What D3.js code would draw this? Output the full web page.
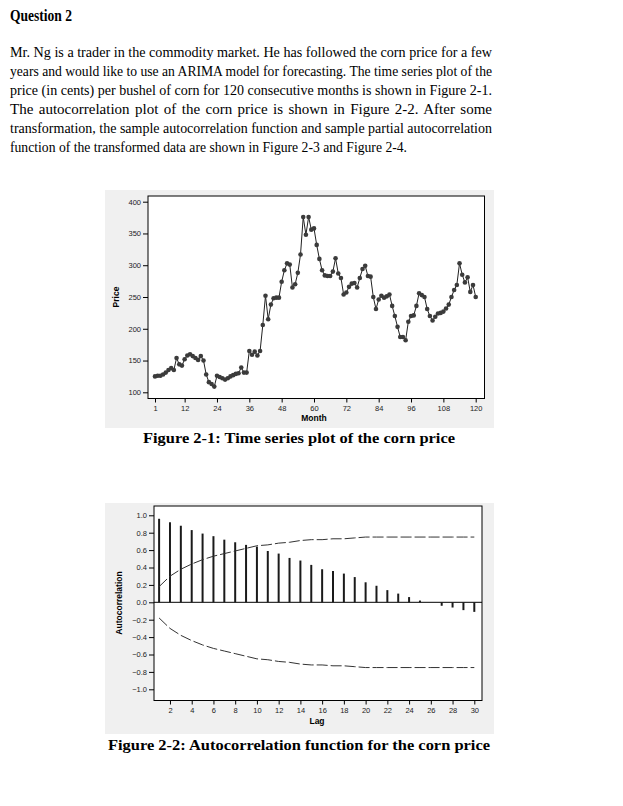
<!DOCTYPE html>
<html>
<head>
<meta charset="utf-8">
<script src="https://cdn.jsdelivr.net/npm/d3@7"></script>
<style>
  body { margin: 0; background: #fff; }
  svg { display: block; }
</style>
</head>
<body>
<svg id="page" width="623" height="806"></svg>
<script>
// question text, one entry per printed line
var title = "Question 2";
var para = [
  "Mr. Ng is a trader in the commodity market. He has followed the corn price for a few",
  "years and would like to use an ARIMA model for forecasting. The time series plot of the",
  "price (in cents) per bushel of corn for 120 consecutive months is shown in Figure 2-1.",
  "The autocorrelation plot of the corn price is shown in Figure 2-2. After some",
  "transformation, the sample autocorrelation function and sample partial autocorrelation",
  "function of the transformed data are shown in Figure 2-3 and Figure 2-4."
];

// Figure 2-1 : corn price, months 1..120
var months = d3.range(1, 121);
var price = [125,126,126,128,131,135,138,135,154,144,
             142,152,158,160,157,154,151,157,150,128,
             116,113,109,126,124,122,120,122,125,127,
             129,130,139,131,131,165,159,164,158,165,
             206,252,215,238,248,249,249,274,292,303,
             301,265,270,288,317,376,348,376,356,358,
             332,310,292,284,283,283,290,311,287,280,
             254,257,266,271,272,265,280,294,299,283,
             282,250,231,246,252,249,251,254,236,220,
             203,187,187,182,211,220,221,236,256,253,
             250,231,220,213,219,224,225,227,232,238,
             250,261,269,303,285,273,281,258,269,250];
var monthTicks = [1,12,24,36,48,60,72,84,96,108,120];
var priceTicks = [100,150,200,250,300,350,400];

// Figure 2-2 : autocorrelation of the price
var lags = d3.range(1, 31);
var acf = [0.96,0.92,0.88,0.83,0.79,0.76,0.72,0.69,0.66,0.64,
           0.59,0.56,0.51,0.48,0.43,0.38,0.36,0.33,0.29,0.23,
           0.19,0.14,0.10,0.06,0.02,0.00,-0.04,-0.06,-0.09,-0.11];
var limit = [0.18,0.30,0.38,0.44,0.49,0.53,0.56,0.59,0.62,0.65,
             0.66,0.68,0.69,0.71,0.72,0.72,0.73,0.73,0.74,0.75,
             0.75,0.75,0.75,0.75,0.75,0.75,0.75,0.75,0.75,0.75];
var lagTicks = [2,4,6,8,10,12,14,16,18,20,22,24,26,28,30];
var acfTicks = [-1.0,-0.8,-0.6,-0.4,-0.2,0.0,0.2,0.4,0.6,0.8,1.0];

var svg = d3.select("#page");
var serif = "'Liberation Serif','Times New Roman',serif";
var sans = "'Liberation Sans',Arial,sans-serif";

// justify a line of text to a given width
function fit(t, w, justify) {
  var natural = t.node().getComputedTextLength();
  var spaces = (t.text().match(/ /g) || []).length;
  if (natural < w && justify && spaces > 0) {
    t.style("word-spacing", ((w - natural) / spaces) + "px");
  } else {
    t.attr("textLength", w).attr("lengthAdjust", "spacingAndGlyphs");
  }
}

var tt = svg.append("text").text(title)
  .attr("x", 10).attr("y", 21)
  .style("font-family", serif).style("font-size", "16px").style("font-weight", "bold");
fit(tt, 62, false);

para.forEach(function(line, i) {
  var t = svg.append("text").text(line)
    .attr("x", 10).attr("y", 57.3 + i * 18.85)
    .style("font-family", serif).style("font-size", "15px");
  if (i < para.length - 1) fit(t, 482, true);
  else fit(t, 397, false);
});

function styleAxis(g) {
  g.select(".domain").remove();
  g.selectAll(".tick line").attr("stroke", "#000");
  g.selectAll(".tick text")
    .style("font-family", sans).style("font-size", "7.5px").attr("fill", "#222");
}

// ---------- Figure 2-1 ----------
svg.append("rect").attr("x", 105).attr("y", 190).attr("width", 389).attr("height", 238).attr("fill", "#f0f0f0");
var f1 = {left: 148, right: 484.5, top: 196, bottom: 398.5};
svg.append("rect").attr("x", f1.left).attr("y", f1.top)
  .attr("width", f1.right - f1.left).attr("height", f1.bottom - f1.top)
  .attr("fill", "#fff").attr("stroke", "#000").attr("stroke-width", 1);

var x1 = d3.scaleLinear().domain([1, 120]).range([155, 475.7]);
var y1 = d3.scaleLinear().domain([100, 400]).range([392.3, 201.7]);

svg.append("g").attr("transform", "translate(" + f1.left + ",0)")
  .call(d3.axisLeft(y1).tickValues(priceTicks).tickSize(5).tickPadding(2))
  .call(styleAxis);
svg.append("g").attr("transform", "translate(0," + f1.bottom + ")")
  .call(d3.axisBottom(x1).tickValues(monthTicks).tickSize(4).tickPadding(3))
  .call(styleAxis);

var line1 = d3.line().x(function(d, i) { return x1(months[i]); }).y(function(d) { return y1(d); });
svg.append("path").datum(price).attr("d", line1)
  .attr("fill", "none").attr("stroke", "#222").attr("stroke-width", 1);
svg.append("g").selectAll("circle").data(price).enter().append("circle")
  .attr("cx", function(d, i) { return x1(months[i]); })
  .attr("cy", function(d) { return y1(d); })
  .attr("r", 2.3).attr("fill", "#3b3b3b");

svg.append("text").text("Price")
  .attr("transform", "translate(119,297) rotate(-90)").attr("text-anchor", "middle")
  .style("font-family", sans).style("font-size", "8.5px").style("font-weight", "bold");
svg.append("text").text("Month")
  .attr("x", 314).attr("y", 421).attr("text-anchor", "middle")
  .style("font-family", sans).style("font-size", "8.5px").style("font-weight", "bold");

var c1 = svg.append("text").text("Figure 2-1: Time series plot of the corn price")
  .attr("x", 143).attr("y", 443)
  .style("font-family", serif).style("font-size", "15px").style("font-weight", "bold");
fit(c1, 312, false);

// ---------- Figure 2-2 ----------
svg.append("rect").attr("x", 105).attr("y", 503).attr("width", 389).attr("height", 231).attr("fill", "#f0f0f0");
var f2 = {left: 154, right: 482, top: 506, bottom: 700.5};
svg.append("rect").attr("x", f2.left).attr("y", f2.top)
  .attr("width", f2.right - f2.left).attr("height", f2.bottom - f2.top)
  .attr("fill", "#fff").attr("stroke", "#000").attr("stroke-width", 1);

var x2 = d3.scaleLinear().domain([1, 30]).range([159.1, 474.3]);
var y2 = d3.scaleLinear().domain([-1, 1]).range([689.3, 515.3]);

svg.append("g").attr("transform", "translate(" + f2.left + ",0)")
  .call(d3.axisLeft(y2).tickValues(acfTicks).tickFormat(d3.format(".1f")).tickSize(5).tickPadding(2))
  .call(styleAxis);
svg.append("g").attr("transform", "translate(0," + f2.bottom + ")")
  .call(d3.axisBottom(x2).tickValues(lagTicks).tickSize(4).tickPadding(3))
  .call(styleAxis);

svg.append("line").attr("x1", f2.left).attr("x2", f2.right)
  .attr("y1", y2(0)).attr("y2", y2(0)).attr("stroke", "#000");

svg.append("g").selectAll("line").data(acf).enter().append("line")
  .attr("x1", function(d, i) { return x2(lags[i]); })
  .attr("x2", function(d, i) { return x2(lags[i]); })
  .attr("y1", y2(0))
  .attr("y2", function(d) { return y2(d); })
  .attr("stroke", "#1a1a1a").attr("stroke-width", 2);

var upper = d3.line().x(function(d, i) { return x2(lags[i]); }).y(function(d) { return y2(d); });
var lower = d3.line().x(function(d, i) { return x2(lags[i]); }).y(function(d) { return y2(-d); });
[upper, lower].forEach(function(l) {
  svg.append("path").datum(limit).attr("d", l)
    .attr("fill", "none").attr("stroke", "#333").attr("stroke-width", 1)
    .attr("stroke-dasharray", "11,3");
});

svg.append("text").text("Autocorrelation")
  .attr("transform", "translate(122,603) rotate(-90)").attr("text-anchor", "middle")
  .style("font-family", sans).style("font-size", "8.5px").style("font-weight", "bold");
svg.append("text").text("Lag")
  .attr("x", 317).attr("y", 724).attr("text-anchor", "middle")
  .style("font-family", sans).style("font-size", "8.5px").style("font-weight", "bold");

var c2 = svg.append("text").text("Figure 2-2: Autocorrelation function for the corn price")
  .attr("x", 108).attr("y", 750)
  .style("font-family", serif).style("font-size", "15px").style("font-weight", "bold");
fit(c2, 382, false);
</script>
</body>
</html>
